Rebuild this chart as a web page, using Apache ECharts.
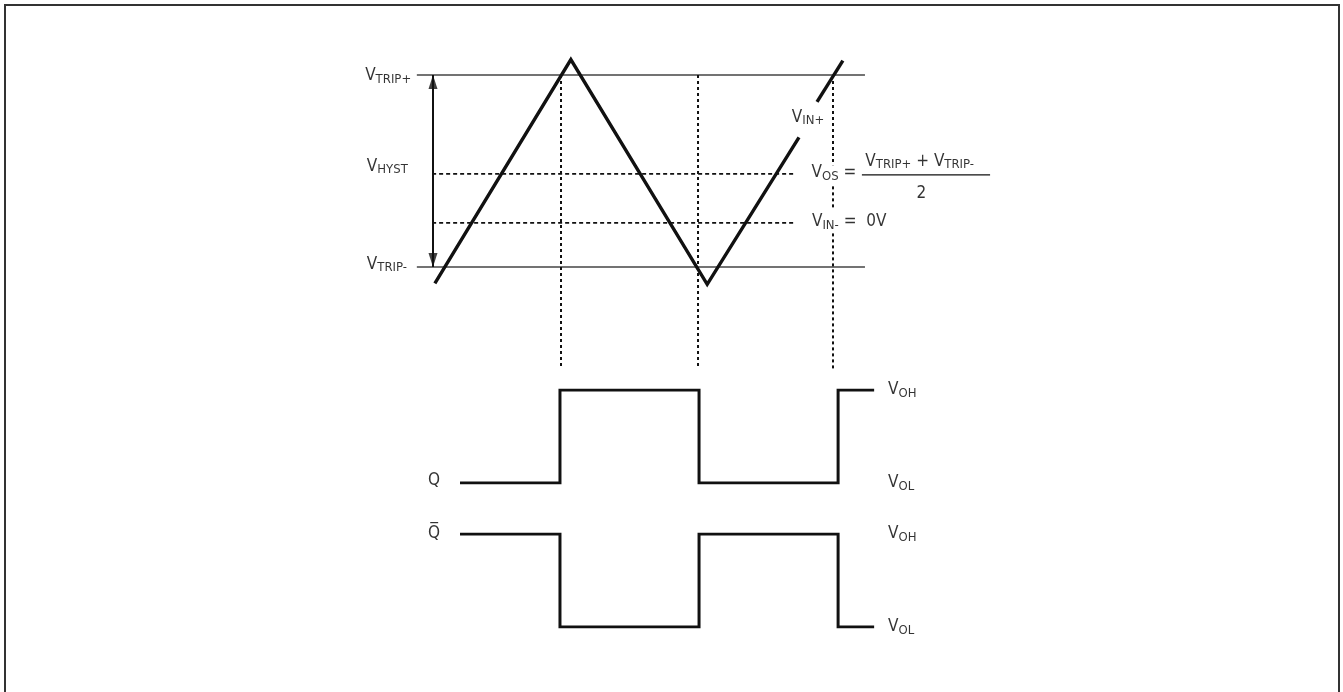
<!DOCTYPE html>
<html>
<head>
<meta charset="utf-8">
<script src="https://cdn.jsdelivr.net/npm/echarts@6.0.0/dist/echarts.min.js"></script>
<style>
  html, body { margin: 0; padding: 0; background: #fff; }
  #main { width: 1343px; height: 692px; }
</style>
</head>
<body>
<div id="main"></div>
<script>
// time axis is in arbitrary units, the comparator trips at t = 4, 8, 12
// upper panel: VTRIP- = 0, VTRIP+ = 2
var tripPlus = 2;
var tripMinus = 0;
var vosLevel = 0.97;
var vinMinusLevel = 0.46;

var tripLineT = [-0.24, 12.94];
var refLineT = [0.21, 10.88];
var crossT = [4, 8.03];
var crossBottom = -1.06;
// last crossing line is broken where the VOS / VIN- texts sit
var cross3T = 12;
var cross3Pieces = [[2, 1.06], [0.84, 0.61], [0.35, -1.06]];
var arrowT = 0.235;

// V_IN+ triangle, broken around its label
var vinT = [0.29, 4.29, 8.3, 11.0];
var vinV = [-0.17, 2.16, -0.18, 1.35];
var vinT2 = [11.53, 12.29];
var vinV2 = [1.72, 2.15];

// outputs, 0 = VOL, 1 = VOH
var qT = [1.03, 3.97, 3.97, 8.06, 8.06, 12.15, 12.15, 13.21];
var qLevel = [0, 0, 1, 1, 0, 0, 1, 1];
var qbT = [1.03, 3.97, 3.97, 8.06, 8.06, 12.15, 12.15, 13.21];
var qbLevel = [1, 1, 0, 0, 1, 1, 0, 0];

// labels: [text, t, level]
var topLabels = [
  ['{v|V}{s|TRIP+}', -1.76, 1.99],
  ['{v|V}{s|HYST}', -1.71, 1.05],
  ['{v|V}{s|TRIP-}', -1.71, 0.03],
  ['{v|V}{s|IN+}', 10.79, 1.56],
  ['{v|V}{s|OS}{v| =}', 11.37, 0.98],
  ['{v|V}{s|IN-}{v| =  0V}', 11.38, 0.47]
];
var fracTop = ['{v|V}{s|TRIP+}{v| + V}{s|TRIP-}', 14.55, 1.1];
var fracBottom = ['{v|2}', 14.6, 0.77];
var fracBarT = [12.85, 16.62];
var fracBarV = 0.96;

var qLabels = [['{v|Q}', 0.09, 0.03], ['{v|V}{s|OH}', 13.62, 1], ['{v|V}{s|OL}', 13.62, 0]];
var qbLabels = [['{v|Q\u0305}', 0.09, 1], ['{v|V}{s|OH}', 13.62, 1], ['{v|V}{s|OL}', 13.62, 0]];

var ink = '#111';
var font = "'Liberation Sans Narrow', 'DejaVu Sans Condensed', 'Roboto', sans-serif";
var rich = {
  v: { fontSize: 17, lineHeight: 20, color: '#000', fontFamily: font },
  s: { fontSize: 13, lineHeight: 9, verticalAlign: 'bottom', color: '#000', fontFamily: font }
};

function pairs(ts, vs) {
  return ts.map(function (t, i) { return [t, vs[i]]; });
}
function seg(t0, t1, v) { return [[t0, v], [t1, v]]; }

function line(data, xi, style) {
  return {
    type: 'line', xAxisIndex: xi, yAxisIndex: xi, data: data, z: 2,
    symbol: 'none', silent: true, animation: false,
    lineStyle: Object.assign({ color: ink, width: 3, join: 'miter', miterLimit: 10 }, style)
  };
}
function labels(list, xi, extra) {
  return {
    type: 'scatter', xAxisIndex: xi, yAxisIndex: xi, symbolSize: 0, silent: true, animation: false,
    z: 10,
    data: list.map(function (d) { return { name: d[0], value: [d[1], d[2]] }; }),
    label: Object.assign({
      show: true, position: 'right', distance: 0, formatter: '{b}', rich: rich
    }, extra || {})
  };
}

var dotted = { width: 2, type: [3, 3] };
var series = [];
series.push(line(seg(tripLineT[0], tripLineT[1], tripPlus), 0, { color: '#444', width: 1.5 }));
series.push(line(seg(tripLineT[0], tripLineT[1], tripMinus), 0, { color: '#444', width: 1.5 }));
series.push(line(seg(refLineT[0], refLineT[1], vosLevel), 0, { width: 1.6, type: [4, 3] }));
series.push(line(seg(refLineT[0], refLineT[1], vinMinusLevel), 0, { width: 1.6, type: [4, 3] }));
crossT.forEach(function (t) {
  series.push(line([[t, tripPlus], [t, crossBottom]], 0, dotted));
});
cross3Pieces.forEach(function (p) {
  series.push(line([[cross3T, p[0]], [cross3T, p[1]]], 0, dotted));
});
series.push(line([[arrowT, tripPlus], [arrowT, tripMinus]], 0, { width: 2 }));
series.push({
  type: 'scatter', xAxisIndex: 0, yAxisIndex: 0, silent: true, animation: false,
  symbol: 'triangle', symbolSize: [9, 14],
  itemStyle: { color: ink },
  data: [
    { value: [arrowT, tripPlus], symbolOffset: [0, 7] },
    { value: [arrowT, tripMinus], symbolRotate: 180, symbolOffset: [0, -7] }
  ]
});
series.push(line(pairs(vinT, vinV), 0, { width: 3.4 }));
series.push(line(pairs(vinT2, vinV2), 0, { width: 3.4 }));
series.push(line(seg(fracBarT[0], fracBarT[1], fracBarV), 0, { width: 1.3 }));
series.push(line(pairs(qT, qLevel), 1, {}));
series.push(line(pairs(qbT, qbLevel), 2, {}));

series.push(labels(topLabels, 0));
series.push(labels([fracTop, fracBottom], 0, { position: 'inside' }));
series.push(labels(qLabels, 1));
series.push(labels(qbLabels, 2));

function xAx(i) {
  return { type: 'value', gridIndex: i, min: -12.5, max: 27, show: false };
}
function yAx(i, min, max) {
  return { type: 'value', gridIndex: i, min: min, max: max, show: false };
}

var chart = echarts.init(document.getElementById('main'));
chart.setOption({
  backgroundColor: '#fff',
  animation: false,
  grid: [
    { left: 0, right: 0, top: 27, height: 384 },
    { left: 0, right: 0, top: 390, height: 93 },
    { left: 0, right: 0, top: 534, height: 93 }
  ],
  xAxis: [xAx(0), xAx(1), xAx(2)],
  yAxis: [yAx(0, -1.5, 2.5), yAx(1, 0, 1), yAx(2, 0, 1)],
  series: series,
  graphic: [{
    type: 'rect', silent: true,
    shape: { x: 5, y: 5, width: 1334, height: 720 },
    style: { fill: 'none', stroke: '#333', lineWidth: 2 }
  }]
});
window.onresize = function () { chart.resize(); };
</script>
</body>
</html>
